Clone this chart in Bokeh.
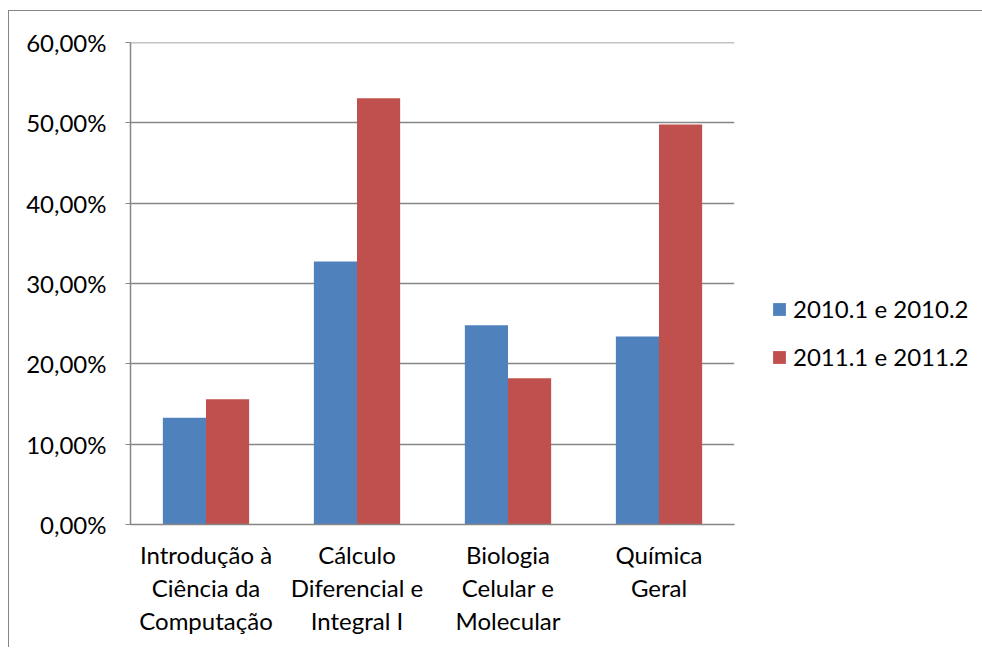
from bokeh.plotting import figure
from bokeh.models import FactorRange, Range1d, FixedTicker, Legend, LegendItem, Span
from bokeh.transform import dodge
from bokeh.embed import file_html
from bokeh.resources import INLINE

categories = ["Introdução à\nCiência da\nComputação",
              "Cálculo\nDiferencial e\nIntegral I",
              "Biologia\nCelular e\nMolecular",
              "Química\nGeral"]
series_2010 = [13.3, 32.75, 24.8, 23.4]
series_2011 = [15.6, 53.05, 18.2, 49.8]
series_names = ["2010.1 e 2010.2", "2011.1 e 2011.2"]
y_ticks = [0, 10, 20, 30, 40, 50, 60]
y_labels = ["0,00%", "10,00%", "20,00%", "30,00%", "40,00%", "50,00%", "60,00%"]

FONT = "Lato"
FS = "24px"
BLUE = "#4F81BD"
RED = "#C0504D"
GRAY = "#868686"
BW = 1 / 3.5

p = figure(x_range=FactorRange(*categories, range_padding=0),
           y_range=Range1d(0, 60),
           frame_width=604, frame_height=482,
           min_border_left=121, min_border_right=246,
           min_border_top=31, min_border_bottom=123,
           output_backend="svg", toolbar_location=None)
p.styles = {"border": "1px solid #868686", "border-bottom": "none",
            "margin-left": "8px", "margin-top": "10px"}

src = dict(cat=categories, a=series_2010, b=series_2011)
r1 = p.vbar(x=dodge("cat", -BW / 2, range=p.x_range), top="a", width=BW,
            source=src, fill_color=BLUE, line_color=None)
r2 = p.vbar(x=dodge("cat", BW / 2, range=p.x_range), top="b", width=BW,
            source=src, fill_color=RED, line_color=None)

p.outline_line_color = None
p.xgrid.grid_line_color = None
p.ygrid.grid_line_color = GRAY
p.ygrid.grid_line_width = 1.5
p.ygrid.ticker = FixedTicker(ticks=y_ticks)
p.add_layout(Span(location=y_ticks[-1], dimension="width",
                  line_color=GRAY, line_width=1.5))

p.yaxis.ticker = FixedTicker(ticks=y_ticks)
p.yaxis.major_label_overrides = {t: l for t, l in zip(y_ticks, y_labels)}
p.yaxis.axis_line_color = GRAY
p.yaxis.axis_line_width = 1.5
p.yaxis.major_tick_line_color = GRAY
p.yaxis.major_tick_out = 5
p.yaxis.major_tick_in = 0
p.yaxis.minor_tick_line_color = None
p.yaxis.major_label_standoff = 19
p.yaxis.major_label_text_font = FONT
p.yaxis.major_label_text_font_size = FS
p.yaxis.major_label_text_color = "#000000"

p.xaxis.axis_line_color = GRAY
p.xaxis.axis_line_width = 1.5
p.xaxis.major_tick_line_color = None
p.xaxis.minor_tick_line_color = None
p.xaxis.major_label_standoff = 9
p.xaxis.major_label_text_font = FONT
p.xaxis.major_label_text_font_size = FS
p.xaxis.major_label_text_line_height = 1.15
p.xaxis.major_label_text_color = "#000000"

legend = Legend(items=[LegendItem(label=series_names[0], renderers=[r1]),
                       LegendItem(label=series_names[1], renderers=[r2])],
                location=(37, 153), orientation="vertical",
                glyph_width=16, glyph_height=16, label_height=16,
                spacing=19, padding=0, margin=0, label_standoff=6,
                border_line_color=None, background_fill_alpha=0,
                label_text_font=FONT, label_text_font_size=FS,
                label_text_color="#000000")
p.add_layout(legend, "right")

open("out.html", "w").write(file_html(p, INLINE))
